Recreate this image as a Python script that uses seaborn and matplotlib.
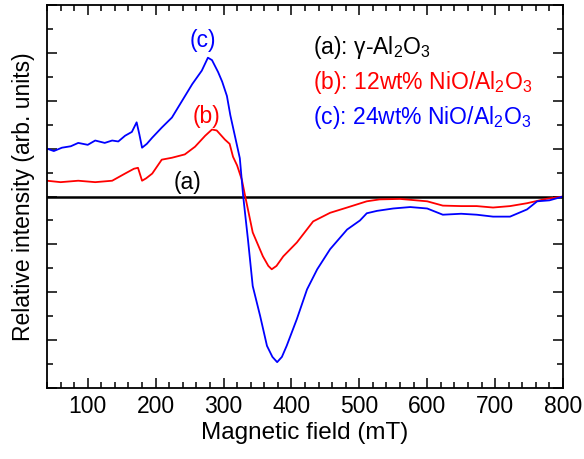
import matplotlib
matplotlib.use("Agg")
import matplotlib.pyplot as plt
import seaborn as sns
import pandas as pd
from matplotlib.ticker import MultipleLocator

# --- data (field in mT, relative intensity in arb. units) ---
field_a = [40, 800]
int_a = [0.0, 0.0]

field_b = [40, 60, 86, 111, 136, 155, 168, 174, 180, 186, 195, 209, 224, 243, 258, 273,
           283, 290, 302, 309, 314, 320, 327, 332, 343, 358, 366, 371, 378, 388, 408, 432,
           457, 482, 511, 530, 560, 600, 623, 650, 673, 697, 722, 747, 775, 800]
int_b = [0.33, 0.30, 0.33, 0.30, 0.33, 0.48, 0.58, 0.60, 0.33, 0.38, 0.48, 0.77, 0.81, 0.88,
         1.04, 1.27, 1.40, 1.38, 1.19, 1.10, 0.83, 0.65, 0.35, 0.0, -0.75, -1.25, -1.45, -1.52,
         -1.45, -1.25, -0.96, -0.52, -0.34, -0.23, -0.10, -0.06, -0.05, -0.10, -0.19, -0.20,
         -0.20, -0.23, -0.20, -0.14, -0.05, 0.0]

field_c = [40, 50, 62, 75, 86, 100, 111, 125, 136, 145, 155, 165, 172, 176, 180, 187, 195,
           209, 224, 239, 254, 268, 277, 283, 292, 298, 305, 310, 317, 324, 329, 336, 343, 354,
           364, 372, 379, 386, 393, 408, 423, 438, 457, 482, 501, 511, 526, 550, 575, 600, 623,
           650, 673, 697, 722, 747, 762, 780, 800]
int_c = [1.00, 0.95, 1.02, 1.05, 1.12, 1.08, 1.17, 1.12, 1.17, 1.15, 1.27, 1.35, 1.55, 1.30,
         1.02, 1.10, 1.23, 1.44, 1.65, 2.00, 2.35, 2.63, 2.90, 2.85, 2.60, 2.40, 2.10, 1.70,
         1.25, 0.80, 0.0, -0.90, -1.87, -2.50, -3.12, -3.35, -3.46, -3.35, -3.12, -2.56, -1.94,
         -1.52, -1.10, -0.69, -0.50, -0.35, -0.30, -0.25, -0.22, -0.25, -0.38, -0.36, -0.38,
         -0.42, -0.42, -0.27, -0.10, -0.08, 0.0]

series_keys = ["a", "b", "c"]
curve_labels = ["(a)", "(b)", "(c)"]
legend_texts = ["(a): γ-Al$_2$O$_3$", "(b): 12wt% NiO/Al$_2$O$_3$",
                "(c): 24wt% NiO/Al$_2$O$_3$"]
colors = {"a": "black", "b": "#ff0000", "c": "#0000ff"}

frames = []
for key, xs, ys in [("a", field_a, int_a), ("b", field_b, int_b), ("c", field_c, int_c)]:
    frames.append(pd.DataFrame({"field": xs, "intensity": ys, "sample": key}))
df = pd.concat(frames, ignore_index=True)

sns.set_theme(style="ticks")
plt.rcParams["font.family"] = ["Liberation Sans", "DejaVu Sans"]
plt.rcParams["mathtext.fontset"] = "custom"
plt.rcParams["mathtext.rm"] = "Liberation Sans"
plt.rcParams["mathtext.it"] = "Liberation Sans:italic"

fig = plt.figure(figsize=(5.84, 4.59), dpi=100)
ax = fig.add_axes([0.0805, 0.1547, 0.8835, 0.8343])

sns.lineplot(data=df, x="field", y="intensity", hue="sample", palette=colors,
             hue_order=["a", "b", "c"], estimator=None, sort=False, linewidth=1.3,
             legend=False, ax=ax)
for line in ax.get_lines():
    if line.get_color() in ("black", "k"):
        line.set_linewidth(1.8)

ax.set_xlim(40, 800)
ax.set_ylim(-4, 4)
ax.xaxis.set_major_locator(MultipleLocator(100))
ax.xaxis.set_minor_locator(MultipleLocator(20))
ax.yaxis.set_major_locator(MultipleLocator(1))
ax.yaxis.set_minor_locator(MultipleLocator(0.5))
ax.tick_params(which="both", direction="in", top=True, right=True, labelsize=16.5,
               width=1.1, color="black", labelcolor="black")
ax.tick_params(which="major", length=7)
ax.tick_params(which="minor", length=4)
ax.tick_params(axis="y", which="both", labelleft=False)
ax.tick_params(axis="x", which="major", pad=5)
for sp in ax.spines.values():
    sp.set_visible(True)
    sp.set_linewidth(1.3)
    sp.set_color("black")

ax.set_xlabel("Magnetic field (mT)", fontsize=17.5, color="black", labelpad=3)
ax.set_ylabel("Relative intensity (arb. units)", fontsize=16.5, color="black", labelpad=9)

# curve labels
ax.text(270, 3.25, curve_labels[2], color=colors["c"], fontsize=16.5, ha="center", va="center")
ax.text(275, 1.68, curve_labels[1], color=colors["b"], fontsize=16.5, ha="center", va="center")
ax.text(247, 0.3, curve_labels[0], color=colors["a"], fontsize=16.5, ha="center", va="center")

# legend-like text block
for i, (key, txt) in enumerate(zip(series_keys, legend_texts)):
    ax.text(0.515, 0.89 - i * 0.092, txt, color=colors[key], fontsize=16.5,
            transform=ax.transAxes, ha="left", va="center")

fig.savefig("out.png", dpi=100)
